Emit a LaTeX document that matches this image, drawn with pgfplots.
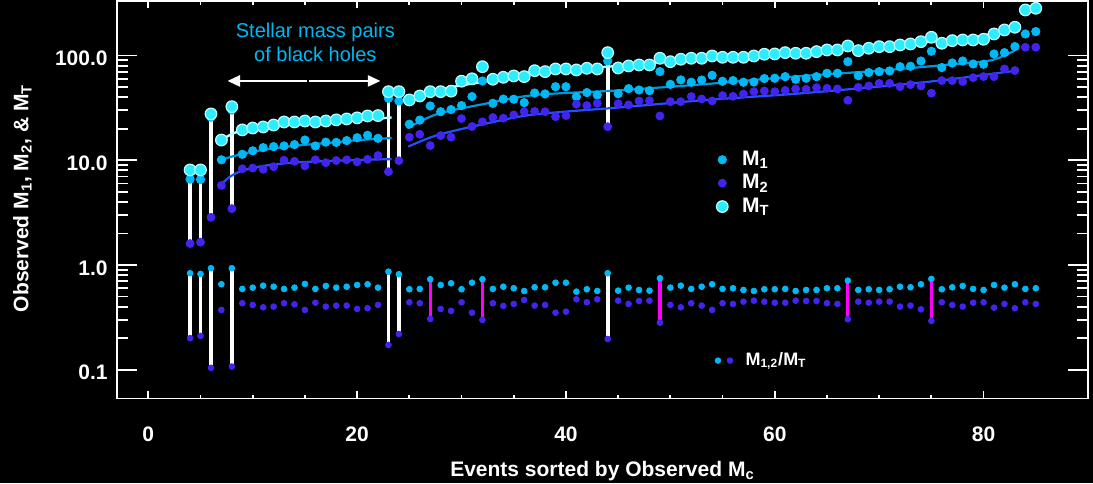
\documentclass[border=0pt]{standalone}
\usepackage{fontspec}
\setmainfont{Liberation Sans}
\usepackage{pgfplots}
\usepackage{pgfplotstable}
\pgfplotsset{compat=1.18}
\usetikzlibrary{arrows.meta}

\definecolor{mtc}{RGB}{45,236,255}
\definecolor{mtrim}{RGB}{185,255,255}
\definecolor{mone}{RGB}{0,184,245}
\definecolor{mtwo}{RGB}{66,36,238}
\definecolor{fitt}{RGB}{175,255,255}
\definecolor{fitone}{RGB}{0,150,215}
\definecolor{fittwo}{RGB}{35,80,255}
\definecolor{magbar}{RGB}{255,0,255}

% x = event index, masses, r1 = M1/MT, r2 = M2/MT
\pgfplotstableread{
x mt m1 m2 r1 r2
4 8.08 6.60 1.60 0.833 0.200
5 8.08 6.55 1.65 0.820 0.210
6 27.7 25.8 2.85 0.930 0.104
7 15.6 10.1 5.75 0.654 0.372
8 32.5 30.2 3.45 0.930 0.107
9 19.5 11.4 8.30 0.590 0.431
10 20.3 12.3 8.42 0.607 0.415
11 20.8 13.2 8.20 0.634 0.394
12 21.7 13.5 8.68 0.620 0.400
13 23.2 13.7 10.0 0.590 0.431
14 23.2 14.1 9.77 0.607 0.421
15 23.7 15.6 8.82 0.659 0.372
16 23.2 13.7 10.1 0.590 0.436
17 23.7 14.9 9.48 0.630 0.400
18 24.3 14.8 9.94 0.607 0.409
19 24.8 15.4 10.1 0.620 0.409
20 25.4 16.4 9.65 0.644 0.380
21 26.5 17.3 10.2 0.654 0.386
22 26.7 16.2 11.1 0.607 0.415
23 45.2 39.0 7.77 0.863 0.172
24 45.2 36.8 9.90 0.815 0.219
25 37.7 22.1 16.6 0.586 0.440
26 41.1 24.2 17.7 0.590 0.431
27 45.2 33.0 13.8 0.730 0.305
28 45.2 29.1 17.2 0.644 0.380
29 45.7 30.5 16.6 0.668 0.364
30 56.9 33.3 25.0 0.586 0.440
31 60.0 40.6 21.0 0.677 0.350
32 78.3 57.2 23.3 0.730 0.298
33 59.4 35.0 25.6 0.590 0.431
34 62.0 38.4 25.2 0.620 0.406
35 63.9 38.3 27.1 0.599 0.424
36 62.9 35.5 29.1 0.564 0.463
37 71.7 43.9 29.3 0.612 0.409
38 70.2 43.0 29.1 0.612 0.415
39 74.5 50.4 26.1 0.677 0.350
40 74.5 50.4 26.7 0.677 0.358
41 72.9 40.5 34.3 0.556 0.470
42 75.6 44.3 33.3 0.586 0.440
43 74.5 42.0 35.0 0.564 0.470
44 106.6 88.8 20.9 0.833 0.196
45 76.1 43.2 34.7 0.568 0.456
46 79.6 48.3 33.8 0.607 0.424
47 81.3 46.9 36.8 0.577 0.453
48 81.3 46.2 37.1 0.568 0.456
49 94.2 70.3 26.5 0.746 0.281
50 87.4 53.1 36.3 0.607 0.415
51 92.2 58.5 36.3 0.634 0.394
52 94.2 55.6 40.6 0.590 0.431
53 94.2 58.4 38.5 0.620 0.409
54 99.1 64.8 36.9 0.654 0.372
55 96.3 56.8 41.5 0.590 0.431
56 96.3 57.7 40.8 0.599 0.424
57 96.3 55.6 42.9 0.577 0.446
58 99.1 55.9 45.2 0.564 0.456
59 102.9 60.3 45.9 0.586 0.446
60 103.6 60.7 45.2 0.586 0.436
61 106.6 62.9 46.5 0.590 0.436
62 105.2 59.3 48.0 0.564 0.456
63 105.2 60.7 47.7 0.577 0.453
64 109.0 62.9 49.4 0.577 0.453
65 113.1 67.7 48.7 0.599 0.431
66 113.1 67.7 48.0 0.599 0.424
67 123.5 87.4 37.4 0.708 0.303
68 111.4 64.3 49.7 0.577 0.446
69 117.4 68.8 51.2 0.586 0.436
70 121.6 70.2 54.2 0.577 0.446
71 121.6 71.3 54.2 0.586 0.446
72 126.2 78.2 50.5 0.620 0.400
73 129.1 79.0 52.8 0.612 0.409
74 135.7 88.7 51.2 0.654 0.377
75 149.5 109.9 43.7 0.735 0.292
76 131.1 76.8 57.7 0.586 0.440
77 138.8 84.9 57.6 0.612 0.415
78 140.9 88.8 56.4 0.630 0.400
79 140.9 83.1 61.4 0.590 0.436
80 143.1 82.6 63.0 0.577 0.440
81 160.8 103.6 62.9 0.644 0.391
82 175.6 106.6 74.5 0.607 0.424
83 186.4 121.9 71.9 0.654 0.386
84 272.6 160.8 119.9 0.590 0.440
85 283.0 169.5 120.0 0.599 0.424
}\events

\newcommand{\lab}{\fontsize{10.5}{12}\selectfont\bfseries}

\begin{document}
\begin{tikzpicture}
\fill[black] (-58.5pt,-42.25pt) rectangle (488pt,199.25pt);
\begin{axis}[
  at={(0,0)}, anchor=south west,
  width=485.5pt, height=198.75pt, scale only axis,
  xmin=-3, xmax=90,
  ymode=log, ymin=0.053, ymax=332,
  axis line style={white, line width=0.9pt},
  tick style={white, line width=0.9pt},
  xtick={0,20,...,80}, minor x tick num=3,
  ytick={0.1,1,10,100}, yticklabels={0.1,1.0,10.0,100.0},
  xtick style={/pgfplots/major tick length=3.7pt, /pgfplots/minor tick length=2pt},
  ytick style={/pgfplots/major tick length=10pt, /pgfplots/minor tick length=5.5pt},
  /pgf/number format/assume math mode=true,
  tick label style={font=\lab, text=white},
  xticklabel style={anchor=base, inner sep=0pt, yshift=-21.6pt},
  yticklabel style={anchor=east, inner sep=0pt, xshift=-4.5pt, yshift=-1.5pt},
  xlabel={Events sorted by Observed M\textsubscript{c}},
  xlabel style={at={(axis description cs:0.5,-0.1967)}, anchor=base, font=\lab, text=white, inner sep=0pt},
  ylabel={Observed M\textsubscript{1}, M\textsubscript{2}, \& M\textsubscript{T}},
  ylabel style={at={(axis description cs:-0.09135,0.504)}, anchor=base, font=\lab, text=white, inner sep=0pt},
  legend image code/.code={\draw[#1] plot coordinates {(0pt,0pt)};},
  legend cell align=left,
  legend style={draw=none, fill=none, text=white, font=\lab, inner sep=0pt,
    at={(axis description cs:0.6170,0.6257)}, anchor=north west,
    nodes={inner sep=0pt, text height=7.6pt, text depth=2pt},
    row sep=2.1pt,
    /tikz/every odd column/.append style={column sep=7.0pt}},
]
% masses
\addplot[only marks, mark=*, mark size=2.1pt, mark options={draw=mone, fill=mone}] table[x=x, y=m1] {\events};
\addlegendentry{M\textsubscript{1}}
\addplot[white, line width=1.8pt, forget plot] coordinates {(4,8.08) (4,1.60)};
\addplot[white, line width=1.8pt, forget plot] coordinates {(5,8.08) (5,1.65)};
\addplot[white, line width=1.8pt, forget plot] coordinates {(6,27.7) (6,2.85)};
\addplot[white, line width=1.8pt, forget plot] coordinates {(8,32.5) (8,3.45)};
\addplot[white, line width=1.8pt, forget plot] coordinates {(23,45.2) (23,7.77)};
\addplot[white, line width=1.8pt, forget plot] coordinates {(24,45.2) (24,9.90)};
\addplot[white, line width=1.8pt, forget plot] coordinates {(44,106.6) (44,20.9)};
\addplot[only marks, mark=*, mark size=2.0pt, mark options={draw=mtwo, fill=mtwo}] table[x=x, y=m2] {\events};
\addlegendentry{M\textsubscript{2}}
\addplot[only marks, mark=*, mark size=2.9pt, mark options={draw=mtrim, fill=mtc, line width=0.6pt}] table[x=x, y=mt] {\events};
\addlegendentry{M\textsubscript{T}}
% fitted curves
\addplot[fitt, line width=1.2pt, smooth, forget plot] coordinates {(7,15.6) (8.15,18.1) (9.43,19.5) (12.6,21.7) (15.8,23.0) (20.2,24.3) (23.3,25.6)};
\addplot[fitone, line width=1.1pt, smooth, forget plot] coordinates {(6.8,10.0) (8.98,11.5) (11,12.55) (13.9,13.7) (17.4,14.7) (20.2,15.6) (23.3,16.3)};
\addplot[fittwo, line width=1.1pt, smooth, forget plot] coordinates {(6.8,5.68) (7.83,6.97) (8.98,7.94) (11,8.83) (13.9,9.49) (17.4,9.85) (20.2,10.07) (23.3,10.25)};
\addplot[fitt, line width=1.2pt, smooth, forget plot] coordinates {(24.9,36.5) (27,44) (29.3,50.5) (33,58) (37,70) (45,79.6) (53.5,95) (62,109) (70,122) (76,139) (79.5,152) (83,184)};
\addplot[fitone, line width=1.1pt, smooth, forget plot] coordinates {(24.8,20.2) (27.7,27.7) (32.5,35) (37,42) (45,46.5) (53.5,53.5) (61.8,62.9) (70.2,72) (76.3,81.3) (80.7,90) (83,112)};
\addplot[fittwo, line width=1.1pt, smooth, forget plot] coordinates {(24.9,13.5) (27.7,17.4) (32.5,22.6) (37,27.4) (45.4,32.1) (53.5,37.7) (61.8,43) (70.2,50.8) (76.3,58.5) (83,71.5)};
% ratios
\addplot[white, line width=1.9pt, forget plot] coordinates {(4,0.833) (4,0.200)};
\addplot[white, line width=1.9pt, forget plot] coordinates {(5,0.820) (5,0.210)};
\addplot[white, line width=1.9pt, forget plot] coordinates {(6,0.930) (6,0.104)};
\addplot[white, line width=1.9pt, forget plot] coordinates {(8,0.930) (8,0.107)};
\addplot[white, line width=1.9pt, forget plot] coordinates {(23,0.863) (23,0.172)};
\addplot[white, line width=1.9pt, forget plot] coordinates {(24,0.815) (24,0.219)};
\addplot[white, line width=1.9pt, forget plot] coordinates {(44,0.833) (44,0.196)};
\addplot[magbar, line width=1.6pt, forget plot] coordinates {(27,0.730) (27,0.305)};
\addplot[magbar, line width=1.6pt, forget plot] coordinates {(32,0.730) (32,0.298)};
\addplot[magbar, line width=1.6pt, forget plot] coordinates {(49,0.746) (49,0.281)};
\addplot[magbar, line width=1.6pt, forget plot] coordinates {(67,0.708) (67,0.303)};
\addplot[magbar, line width=1.6pt, forget plot] coordinates {(75,0.735) (75,0.292)};
\addplot[only marks, mark=*, mark size=1.45pt, mark options={draw=mone, fill=mone}, forget plot] table[x=x, y=r1] {\events};
\addplot[only marks, mark=*, mark size=1.45pt, mark options={draw=mtwo, fill=mtwo}, forget plot] table[x=x, y=r2] {\events};
% annotation
\node[anchor=base, font=\fontsize{10}{12}\selectfont, text=mone, inner sep=0pt] at (axis cs:16,149.5) {Stellar mass pairs};
\node[anchor=base, font=\fontsize{10}{12}\selectfont, text=mone, inner sep=0pt] at (axis cs:16,87.4) {of black holes};
\draw[white, line width=1.2pt, -{Triangle[length=6.3pt, width=5.5pt]}] (axis cs:15.16,57.2) -- (axis cs:7.58,57.2);
\draw[white, line width=1.2pt, -{Triangle[length=6.3pt, width=5.5pt]}] (axis cs:15.38,57.2) -- (axis cs:22.23,57.2);
\end{axis}
\begin{axis}[
  at={(0,0)}, anchor=south west,
  width=485.5pt, height=198.75pt, scale only axis,
  xmin=0, xmax=1, ymin=0, ymax=1, hide axis,
  legend cell align=left,
  legend style={draw=none, fill=none, text=white, font=\fontsize{9}{11}\selectfont\bfseries, inner sep=0pt,
    at={(axis description cs:0.6152,0.1175)}, anchor=north west,
    nodes={inner sep=0pt, text height=6.6pt, text depth=1.8pt},
    /tikz/every odd column/.append style={column sep=6.2pt}},
]
\addlegendimage{legend image code/.code={\fill[mone] (-6pt,0pt) circle (1.4pt); \fill[mtwo] (0pt,0pt) circle (1.4pt);}}
\addlegendentry{M\textsubscript{1,2}/M\textsubscript{T}}
\end{axis}
\pgfresetboundingbox
\path[use as bounding box] (-58.5pt,-42.25pt) rectangle (488pt,199.25pt);
\end{tikzpicture}
\end{document}
